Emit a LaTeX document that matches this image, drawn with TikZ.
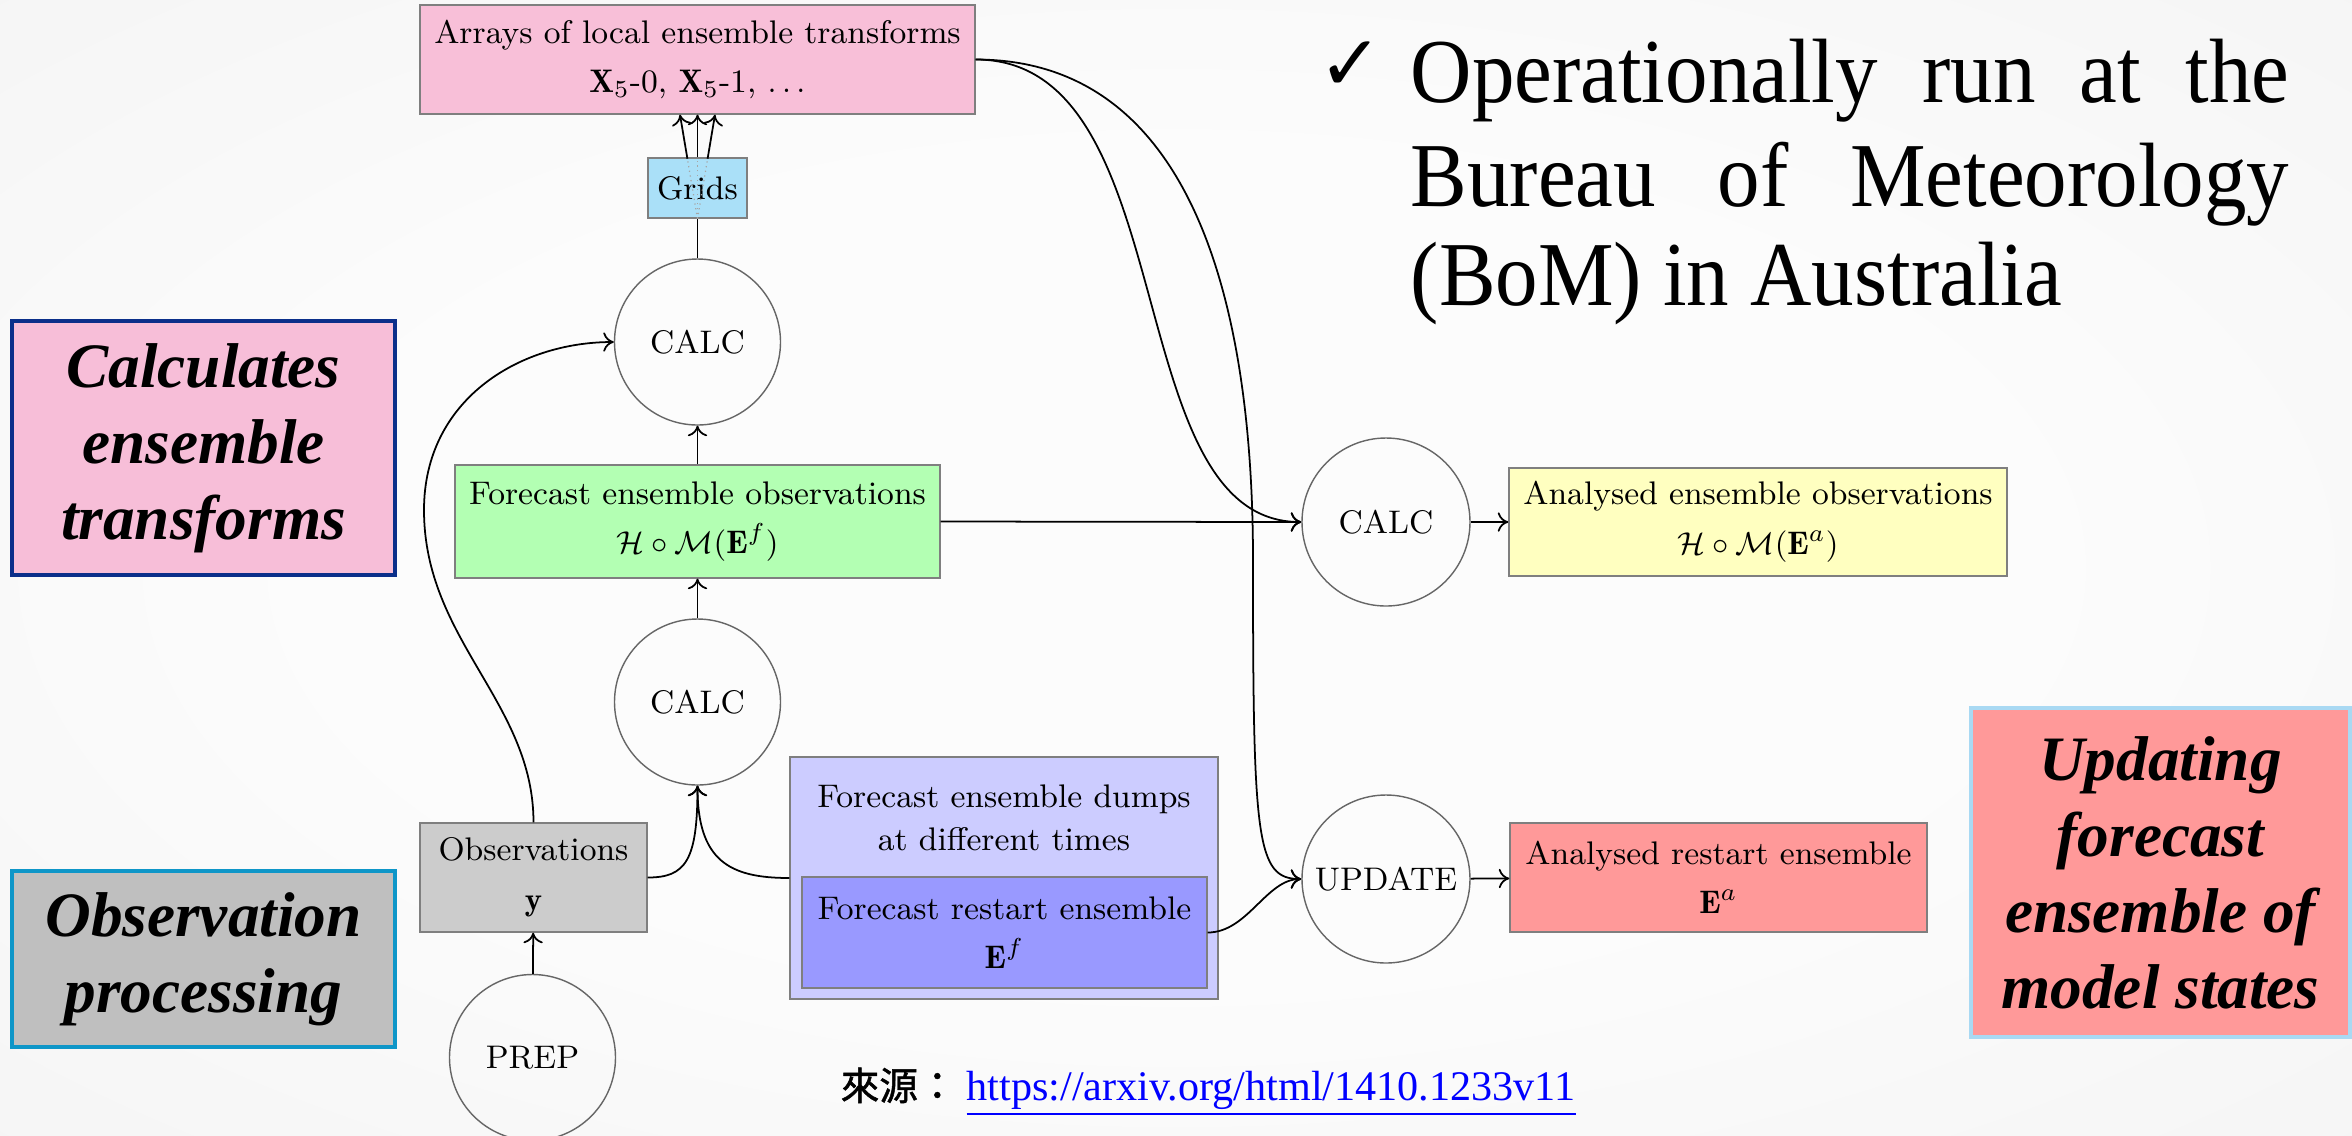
\documentclass[tikz,border=0pt]{standalone}
\usepackage{fontspec}
\usetikzlibrary{arrows.meta,calc}
\newfontfamily\timesfont{Liberation Serif}
\newfontfamily\notefont[FakeStretch=0.93]{Liberation Serif}
\newfontfamily\cjkfont[FakeBold=1.2]{Noto Sans CJK TC}
\newfontfamily\symbolfont{DejaVu Sans}

\definecolor{bgin}{HTML}{FCFCFC}
\definecolor{bgout}{HTML}{E8E8E8}
\definecolor{arraypink}{HTML}{F8BFD8}
\definecolor{gridblue}{HTML}{AAE0F8}
\definecolor{obsgreen}{HTML}{B3FFB3}
\definecolor{anayellow}{HTML}{FFFFC0}
\definecolor{anared}{HTML}{FF9999}
\definecolor{obsgray}{HTML}{CCCCCC}
\definecolor{dumplav}{HTML}{CCCCFF}
\definecolor{restartblue}{HTML}{9999FF}
\definecolor{boxedge}{HTML}{7F7F7F}
\definecolor{labpink}{HTML}{F7BED8}
\definecolor{labnavy}{HTML}{0B2F8A}
\definecolor{labgray}{HTML}{BFBFBF}
\definecolor{labcyan}{HTML}{0E96C8}
\definecolor{labred}{HTML}{FF9999}
\definecolor{labsky}{HTML}{A9D9F3}
\definecolor{linkblue}{HTML}{0000FF}

\pgfdeclareradialshading{softglow}{\pgfpoint{0bp}{0bp}}{%
  color(0bp)=(bgin); color(18bp)=(bgin); color(71bp)=(bgout)}

\begin{document}
\begin{tikzpicture}[x=0.1mm,y=-0.1mm,
  diag/.style={font=\fontsize{9.3}{12.4}\selectfont, align=center},
  databox/.style={diag, draw=boxedge, line width=0.4pt, rectangle, inner sep=0pt},
  proc/.style={diag, draw=black!60, line width=0.4pt, circle, minimum size=16.6mm, inner sep=0pt},
  flow/.style={line width=0.5pt, -{To[length=3pt,width=5.5pt]}},
  link/.style={line width=0.5pt},
  hidden/.style={densely dotted, black!35, line width=0.35pt},
  tag/.style={rectangle, line width=1.1pt, align=center, inner sep=0pt,
    font=\timesfont\bfseries\itshape\fontsize{18}{21.6}\selectfont},
  bullet/.style={anchor=base west, inner sep=0pt, font=\notefont\fontsize{26}{30}\selectfont},
]
\useasboundingbox (0,0) rectangle (2352,1135);
\clip (0,0) rectangle (2352,1135);
\shade[shading=softglow] (0,0) rectangle (2352,1135);

% ---- workflow nodes ----
\node[databox, fill=arraypink, minimum width=55.5mm, minimum height=10.9mm] (arrays) at (697.5,59.5)
  {Arrays of local ensemble transforms\\[1.7pt] $\mathbf{X}_5$-0, $\mathbf{X}_5$-1, $\ldots$};
\node[databox, fill=gridblue, minimum width=9.9mm, minimum height=6mm] (grids) at (697.5,188) {Grids};
\node[proc] (calcT) at (697.5,342) {CALC};
\node[databox, fill=obsgreen, minimum width=48.5mm, minimum height=11.3mm] (fobs) at (697.5,521.5)
  {Forecast ensemble observations\\[1.7pt] $\mathcal{H}\circ\mathcal{M}(\mathbf{E}^f)$};
\node[proc] (calcM) at (697.5,702) {CALC};
\node[databox, fill=obsgray, minimum width=22.7mm, minimum height=10.9mm] (obs) at (533.5,877.5)
  {Observations\\[1.7pt] $\mathbf{y}$};
\node[proc] (prep) at (532.5,1057.5) {PREP};
\node[databox, fill=dumplav, minimum width=42.8mm, minimum height=24.2mm] (dumps) at (1004,878) {};
\node[diag, inner sep=0pt] (dumpstext) at (1004,818) {Forecast ensemble dumps\\ at different times};
\node[databox, fill=restartblue, minimum width=40.5mm, minimum height=11.1mm] (restart) at (1004.5,932.5)
  {Forecast restart ensemble\\[1.7pt] $\mathbf{E}^f$};
\node[proc, minimum size=16.8mm] (calcR) at (1386,522) {CALC};
\node[databox, fill=anayellow, minimum width=49.8mm, minimum height=10.8mm] (aobs) at (1758,522)
  {Analysed ensemble observations\\[1.7pt] $\mathcal{H}\circ\mathcal{M}(\mathbf{E}^a)$};
\node[proc, minimum size=16.8mm] (update) at (1386,879) {UPDATE};
\node[databox, fill=anared, minimum width=41.7mm, minimum height=10.9mm] (arestart) at (1718.5,877.5)
  {Analysed restart ensemble\\[1.7pt] $\mathbf{E}^a$};

% ---- grids fan out into the transform arrays ----
\coordinate (aleft) at ($(arrays.south)+(-17.5,0)$);
\coordinate (aright) at ($(arrays.south)+(17.5,0)$);
\coordinate (gleft) at ($(grids.south)!0.577!(aleft)$);
\coordinate (gright) at ($(grids.south)!0.577!(aright)$);
\draw[hidden] (grids.south) -- (gleft);
\draw[hidden] (grids.south) -- (grids.north);
\draw[hidden] (grids.south) -- (gright);
\draw[flow] (gleft) -- (aleft);
\draw[flow] (grids.north) -- (arrays.south);
\draw[flow] (gright) -- (aright);

% ---- connectors ----
\draw[link] (calcT) -- (grids);
\draw[flow] (fobs) -- (calcT);
\draw[flow] (calcM) -- (fobs);
\draw[flow] (prep) -- (obs);
\draw[flow] (obs.east) .. controls +(38,0) and +(0,75) .. (calcM.south);
\draw[flow] (dumps.west) .. controls +(-60,0) and +(0,75) .. (calcM.south);
\coordinate (obsbend) at (424,510);
\draw[flow] (obs.north) .. controls +(0,-120) and +(0,130) .. (obsbend)
  .. controls +(0,-110) and +(-95,0) .. (calcT.west);
\draw[flow] (fobs.east) -- (calcR.west);
\draw[flow] (arrays.east) .. controls +(210,0) and +(-185,0) .. (calcR.west);
\coordinate (updbend) at (1253,560);
\draw[flow] (arrays.east) .. controls +(215,0) and +(0,-260) .. (updbend)
  .. controls +(0,280) and +(-45,0) .. (update.west);
\draw[flow] (restart.east) .. controls +(40,0) and +(-35,0) .. (update.west);
\draw[flow] (calcR) -- (aobs);
\draw[flow] (update) -- (arestart);

% ---- stage labels ----
\node[tag, fill=labpink, draw=labnavy, minimum width=38.3mm, minimum height=25.4mm] (tagcalc) at (203.5,448)
  {Calculates\\ ensemble\\ transforms};
\node[tag, fill=labgray, draw=labcyan, minimum width=38.3mm, minimum height=17.6mm] (tagobs) at (203.5,959)
  {Observation\\ processing};
\node[tag, fill=labred, draw=labsky, minimum width=37.9mm, minimum height=32.9mm] (tagupd) at (2160.5,872.5)
  {Updating\\ forecast\\ ensemble of\\ model states};

% ---- note ----
\node[bullet, font=\symbolfont\bfseries\fontsize{22}{26}\selectfont] (tick) at (1318,90) {✓};
\node[bullet] (noteA) at (1410,102) {\makebox[250pt][s]{Operationally run at the}};
\node[bullet] (noteB) at (1410,206) {\makebox[250pt][s]{Bureau of Meteorology}};
\node[bullet] (noteC) at (1410,305) {(BoM) in Australia};

% ---- source ----
\node[anchor=base west, inner sep=0pt, font=\cjkfont\fontsize{11}{13}\selectfont] (srclabel) at (840,1100) {來源：};
\node[anchor=base west, inner sep=0pt, font=\timesfont\fontsize{12}{14}\selectfont, text=linkblue] (srcurl) at (966,1100)
  {\underline{https://arxiv.org/html/1410.1233v11}};
\end{tikzpicture}
\end{document}
